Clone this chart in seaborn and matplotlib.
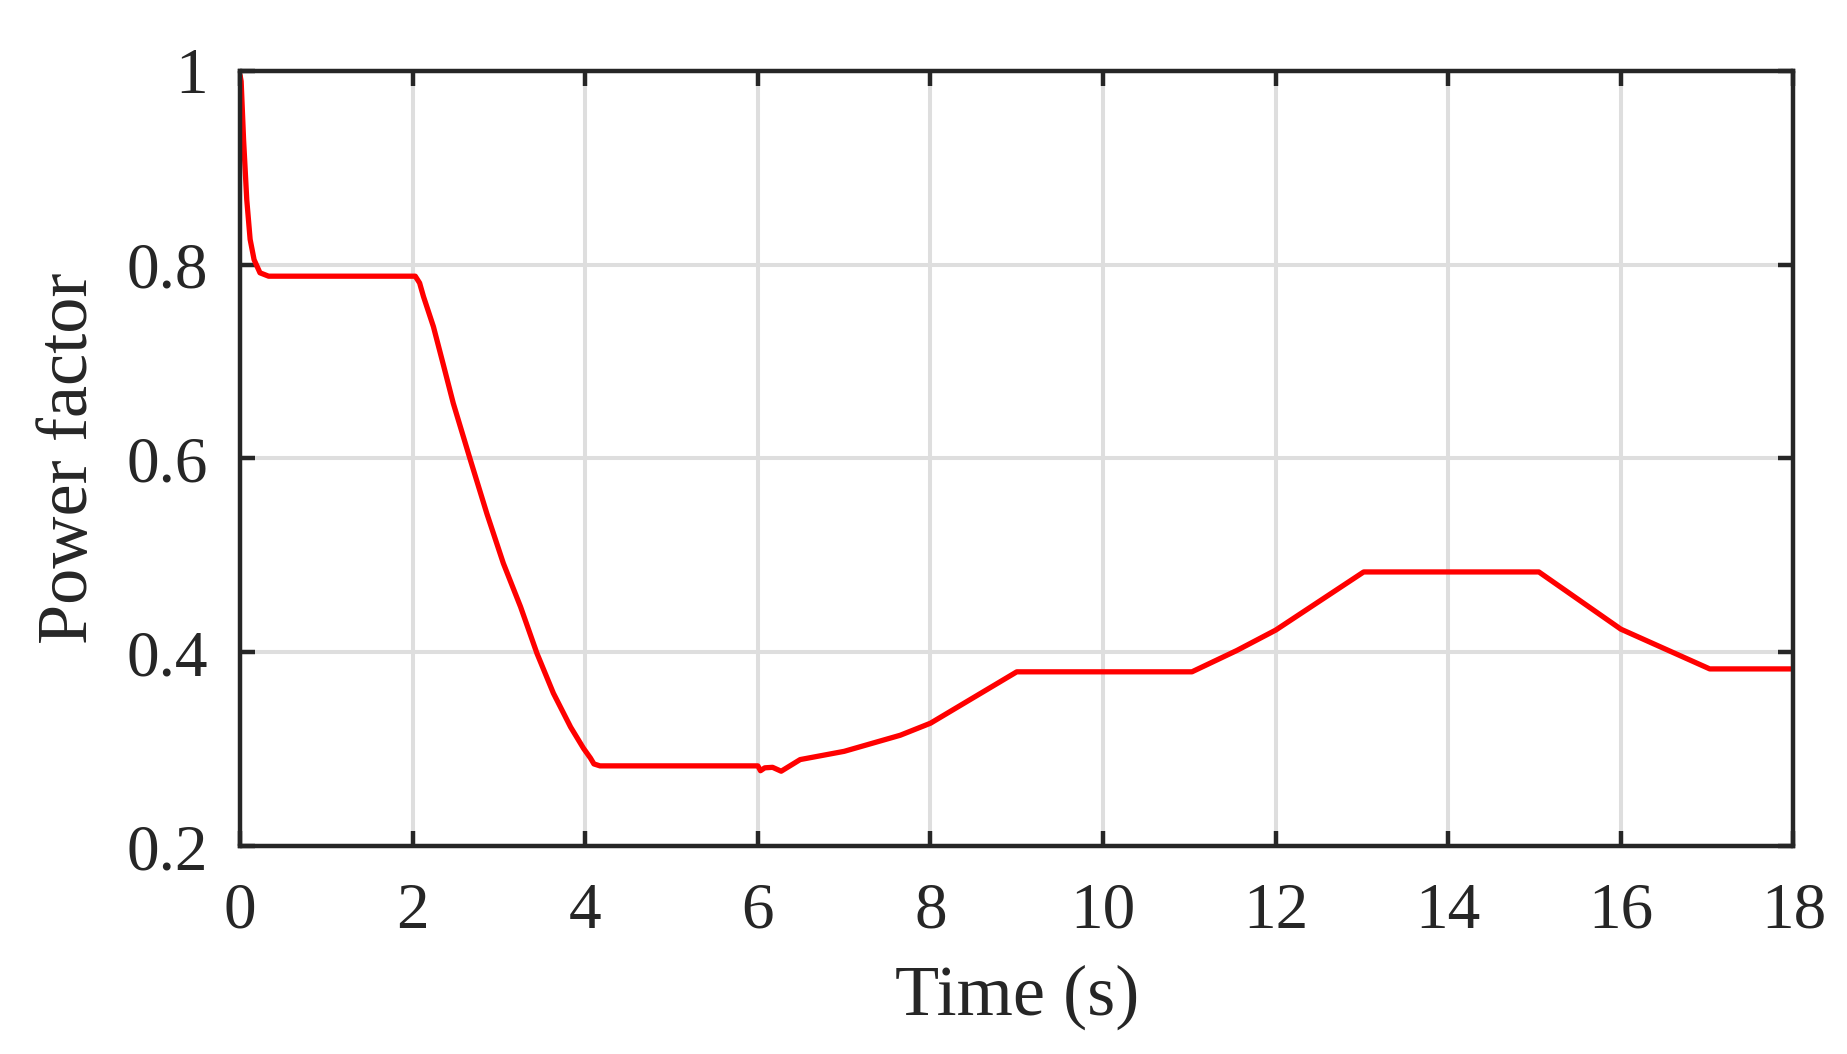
"""Power factor over time."""
import matplotlib

matplotlib.use("Agg")
import matplotlib.pyplot as plt
import pandas as pd
import seaborn as sns
from matplotlib.ticker import FuncFormatter, MultipleLocator

# values
tempo = [
    0.0, 0.012, 0.04, 0.077, 0.116, 0.162, 0.23, 0.33,
    2.03, 2.08, 2.125, 2.24, 2.36, 2.47, 2.67, 2.86, 3.05, 3.25, 3.44, 3.63, 3.83, 3.98, 4.06, 4.10, 4.17,
    6.00, 6.03, 6.08, 6.17, 6.27, 6.49, 7.00, 7.65, 8.00,
    9.00, 11.03, 11.55, 12.00, 13.02, 15.05, 16.00, 17.03, 18.00,
]
fator_potencia = [
    0.995, 0.989, 0.929, 0.867, 0.826, 0.805, 0.7915, 0.788,
    0.788, 0.781, 0.767, 0.736, 0.695, 0.657, 0.598, 0.543, 0.492, 0.447, 0.399, 0.358, 0.323, 0.301, 0.291, 0.285, 0.283,
    0.283, 0.278, 0.281, 0.2815, 0.2775, 0.2895, 0.298, 0.3146, 0.327,
    0.380, 0.380, 0.402, 0.423, 0.483, 0.483, 0.424, 0.383, 0.383,
]

df = pd.DataFrame({"Tempo": tempo, "FP": fator_potencia})

sns.set_theme(style="whitegrid")
plt.rcParams["font.family"] = ["Liberation Serif", "DejaVu Serif"]

escuro = "#262626"
fig, ax = plt.subplots(figsize=(18.47, 10.54), dpi=100)
fig.subplots_adjust(left=0.130, right=0.971, bottom=0.197, top=0.933)

sns.lineplot(data=df, x="Tempo", y="FP", color="#ff0000", linewidth=3.8, ax=ax, zorder=3)

ax.set_xlim(0, 18)
ax.set_ylim(0.2, 1.0)
ax.xaxis.set_major_locator(MultipleLocator(2))
ax.yaxis.set_major_locator(MultipleLocator(0.2))
ax.yaxis.set_major_formatter(FuncFormatter(lambda v, _: f"{v:g}"))

ax.set_facecolor("white")
ax.grid(True, color="#dedede", linewidth=2.9)
for lado in ax.spines.values():
    lado.set_visible(True)
    lado.set_color(escuro)
    lado.set_linewidth(3.2)
    lado.set_zorder(4)

ax.tick_params(
    direction="in", length=11, width=3.2, color=escuro, labelcolor=escuro,
    labelsize=47, top=True, right=True, bottom=True, left=True,
)
ax.tick_params(axis="x", pad=26)
ax.tick_params(axis="y", pad=23)

ax.set_xlabel("Time (s)", fontsize=52, color=escuro, labelpad=16)
ax.set_ylabel("Power factor", fontsize=52, color=escuro, labelpad=18)

plt.savefig("out.png", dpi=100)
plt.close()
